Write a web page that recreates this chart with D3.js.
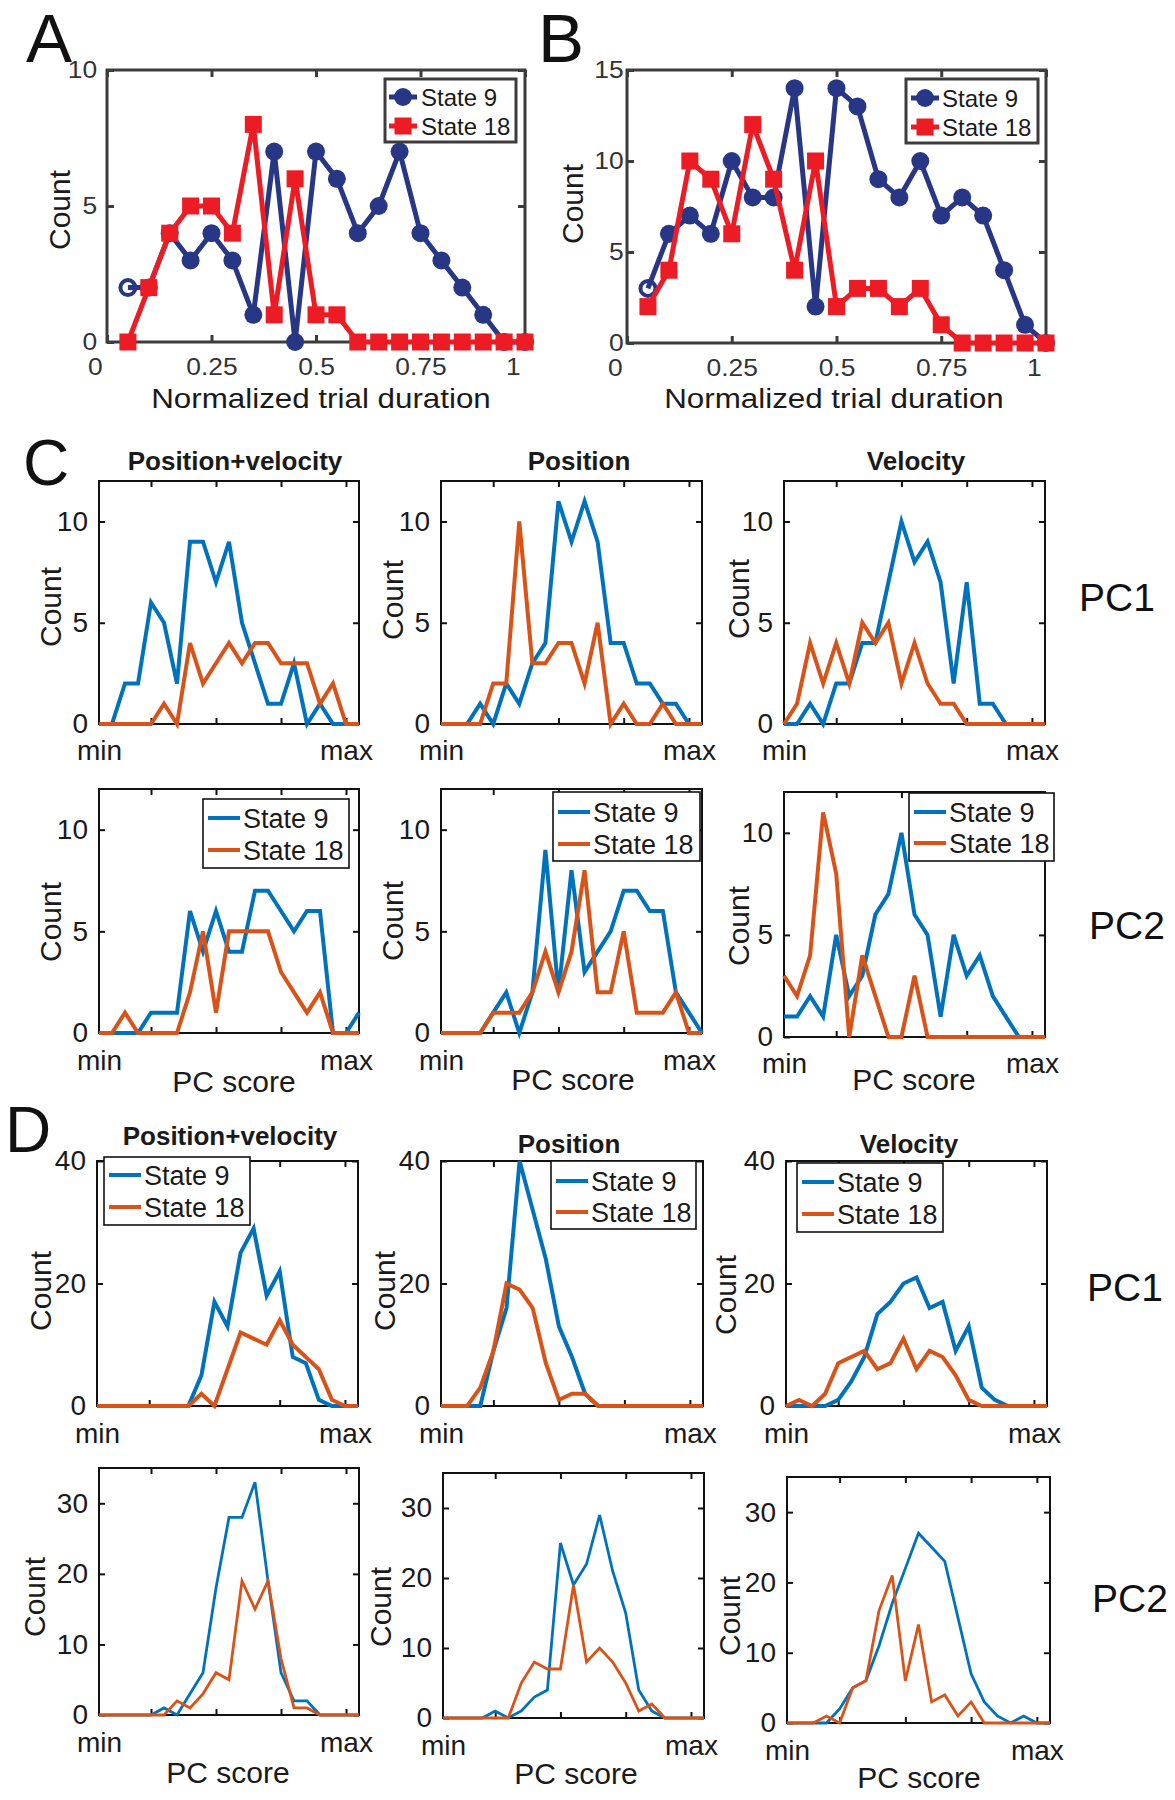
<!DOCTYPE html>
<html><head><meta charset="utf-8">
<script src="https://cdn.jsdelivr.net/npm/d3@7"></script>
<style>
body{margin:0;background:#fff}
svg{display:block}
text{font-family:"Liberation Sans",Arial,Helvetica,sans-serif}
</style>
</head><body>
<svg id="fig" width="1175" height="1800"></svg>
<script>
// ---------------- DATA ----------------
const trialBins = [0.05,0.10,0.15,0.20,0.25,0.30,0.35,0.40,0.45,0.50,0.55,0.60,0.65,0.70,0.75,0.80,0.85,0.90,0.95,1.00];
const trialTicks = [0,0.25,0.5,0.75,1];
const trialTickLabels = ["0","0.25","0.5","0.75","1"];
const aState9  = [2,2,4,3,4,3,1,7,0,7,6,4,5,7,4,3,2,1,0,0];
const aState18 = [0,2,4,5,5,4,8,1,6,1,1,0,0,0,0,0,0,0,0,0];
const bState9  = [3,6,7,6,10,8,8,14,2,14,13,9,8,10,7,8,7,4,1,0];
const bState18 = [2,4,10,9,6,12,9,4,10,2,3,3,2,3,1,0,0,0,0,0];
const aYTicks = [0,5,10];
const bYTicks = [0,5,10,15];

const pcBins = [0,1,2,3,4,5,6,7,8,9,10,11,12,13,14,15,16,17,18,19,20];
const pcTickBins = [4,9,14,19];
const pcEndLabels = ["min","max"];
const seriesNames = ["State 9","State 18"];

const cPosVelPC1S9  = [0,0,2,2,6,5,2,9,9,7,9,5,3,1,1,3,0,1,0,0,0];
const cPosVelPC1S18 = [0,0,0,0,0,1,0,4,2,3,4,3,4,4,3,3,3,1,2,0,0];
const cPosPC1S9     = [0,0,0,1,0,2,1,3,4,11,9,11,9,4,4,2,2,1,1,0,0];
const cPosPC1S18    = [0,0,0,0,2,2,10,3,3,4,4,2,5,0,1,0,0,1,0,0,0];
const cVelPC1S9     = [0,0,1,0,2,2,4,4,7,10,8,9,7,2,7,1,1,0,0,0,0];
const cVelPC1S18    = [0,1,4,2,4,2,5,4,5,2,4,2,1,1,0,0,0,0,0,0,0];

const cPosVelPC2S9  = [0,0,0,0,1,1,1,6,4,6,4,4,7,7,6,5,6,6,0,0,1];
const cPosVelPC2S18 = [0,0,1,0,0,0,0,2,5,1,5,5,5,5,3,2,1,2,0,0,0];
const cPosPC2S9     = [0,0,0,0,1,2,0,2,9,2,8,3,4,5,7,7,6,6,2,1,0];
const cPosPC2S18    = [0,0,0,0,1,1,1,2,4,2,4,8,2,2,5,1,1,1,2,0,0];
const cVelPC2S9     = [1,1,2,1,5,2,3,6,7,10,6,5,1,5,3,4,2,1,0,0,0];
const cVelPC2S18    = [3,2,4,11,8,0,4,2,0,0,3,0,0,0,0,0,0,0,0,0,0];

const dPosVelPC1S9  = [0,0,0,0,0,0,0,0,5,17,13,25,29,18,22,8,7,1,0,0,0];
const dPosVelPC1S18 = [0,0,0,0,0,0,0,0,2,0,6,12,11,10,14,10,8,6,1,0,0];
const dPosPC1S9     = [0,0,0,0,9,16,40,32,24,13,8,2,0,0,0,0,0,0,0,0,0];
const dPosPC1S18    = [0,0,0,3,9,20,19,16,7,1,2,2,0,0,0,0,0,0,0,0,0];
const dVelPC1S9     = [0,0,0,0,1,4,8,15,17,20,21,16,17,9,13,3,1,0,0,0,0];
const dVelPC1S18    = [0,1,0,2,7,8,9,6,7,11,6,9,8,5,1,0,0,0,0,0,0];

const dPosVelPC2S9  = [0,0,0,0,0,1,0,3,6,18,28,28,33,19,6,2,2,0,0,0,0];
const dPosVelPC2S18 = [0,0,0,0,0,0,2,1,3,6,5,19,15,19,8,1,1,0,0,0,0];
const dPosPC2S9     = [0,0,0,0,1,0,1,3,4,25,19,22,29,21,15,4,1,0,0,0,0];
const dPosPC2S18    = [0,0,0,0,0,0,5,8,7,7,19,8,10,8,5,1,2,0,0,0,0];
const dVelPC2S9     = [0,0,0,0,2,5,6,11,17,22,27,25,23,15,7,3,1,0,1,0,0];
const dVelPC2S18    = [0,0,0,1,0,5,6,16,21,6,14,3,4,1,3,0,0,0,0,0,0];

const cYTicks = [0,5,10];
const d1YTicks = [0,20,40];
const d2YTicks = [0,10,20,30];

// ---------------- DRAWING ----------------
const svg = d3.select('#fig');
const NAVY = '#283785', RED = '#ED1C24';
const BLUE = '#0072BD', ORANGE = '#D95319';
const TXT = '#1a1a1a';

function label(txt, x, y, size, o = {}) {
  const t = svg.append('text').attr('font-size', size)
    .attr('fill', o.fill || TXT).attr('text-anchor', o.anchor || 'middle').text(txt);
  if (o.sx) t.attr('transform', `translate(${x},${y}) scale(${o.sx},1)`);
  else t.attr('x', x).attr('y', y);
  if (o.bold) t.attr('font-weight', 'bold');
  return t;
}
function vlabel(txt, cx, cy, size) {
  svg.append('text').attr('transform', `translate(${cx},${cy}) rotate(-90)`)
    .attr('dy', '0.35em').attr('font-size', size).attr('fill', TXT)
    .attr('text-anchor', 'middle').text(txt);
}

function styleAxis(sel, color, w, fs) {
  sel.select('.domain').remove();
  sel.selectAll('.tick line').attr('stroke', color).attr('stroke-width', w);
  sel.selectAll('.tick text').attr('fill', TXT).attr('font-size', fs)
     .attr('font-family', '"Liberation Sans",Arial,Helvetica,sans-serif');
}

// ----- Panels A and B -----
function trialPanel(o) {
  const x = d3.scaleLinear().domain([0, 1]).range([o.x0, o.x1]);
  const y = d3.scaleLinear().domain([0, o.ymax]).range([o.y1, o.y0]);
  const g = svg.append('g');
  const AX = '#3c3c3c';
  g.append('rect').attr('x', o.x0).attr('y', o.y0).attr('width', o.x1 - o.x0)
    .attr('height', o.y1 - o.y0).attr('fill', 'none').attr('stroke', AX).attr('stroke-width', 3);
  const xb = g.append('g').attr('transform', `translate(0,${o.y1})`)
    .call(d3.axisBottom(x).tickValues(trialTicks).tickFormat((d, i) => trialTickLabels[i]).tickSize(-7).tickPadding(16));
  styleAxis(xb, AX, 3, 24);
  xb.selectAll('.tick text').attr('fill', '#333')
    .attr('x', (d, i) => (i === 0 || i === trialTicks.length - 1) ? -11 : 0)
    .attr('transform', 'scale(1.1,1)');
  const xt = g.append('g').attr('transform', `translate(0,${o.y0})`)
    .call(d3.axisTop(x).tickValues(trialTicks).tickFormat('').tickSize(-7));
  styleAxis(xt, AX, 3, 24);
  const yl = g.append('g').attr('transform', `translate(${o.x0},0)`)
    .call(d3.axisLeft(y).tickValues(o.yticks).tickSize(-7).tickPadding(o.ypad));
  styleAxis(yl, AX, 3, 24);
  yl.selectAll('.tick text').attr('fill', '#333').attr('transform', 'scale(1.1,1)');
  const yr = g.append('g').attr('transform', `translate(${o.x1},0)`)
    .call(d3.axisRight(y).tickValues(o.yticks).tickFormat('').tickSize(-7));
  styleAxis(yr, AX, 3, 24);

  const line = d3.line().x((d, i) => x(trialBins[i])).y(d => y(d));
  g.append('path').datum(o.s9).attr('d', line).attr('fill', 'none').attr('stroke', NAVY).attr('stroke-width', 5).attr('stroke-linejoin', 'round');
  g.selectAll('.c9').data(o.s9).enter().append('circle')
    .attr('cx', (d, i) => x(trialBins[i])).attr('cy', d => y(d))
    .attr('r', (d, i) => i === 0 ? 7.5 : 9)
    .attr('fill', (d, i) => i === 0 ? 'none' : NAVY)
    .attr('stroke', NAVY).attr('stroke-width', (d, i) => i === 0 ? 4 : 0);
  g.append('path').datum(o.s18).attr('d', line).attr('fill', 'none').attr('stroke', RED).attr('stroke-width', 5).attr('stroke-linejoin', 'round');
  g.selectAll('.s18').data(o.s18).enter().append('rect')
    .attr('x', (d, i) => x(trialBins[i]) - 8.5).attr('y', d => y(d) - 8.5).attr('width', 17).attr('height', 17).attr('fill', RED);

  // legend
  const L = o.leg;
  g.append('rect').attr('x', L.x0).attr('y', L.y0).attr('width', L.x1 - L.x0).attr('height', L.y1 - L.y0)
    .attr('fill', '#fff').attr('stroke', AX).attr('stroke-width', 3);
  const mx = (L.lx0 + L.lx1) / 2;
  g.append('line').attr('x1', L.lx0).attr('x2', L.lx1).attr('y1', L.ys[0]).attr('y2', L.ys[0]).attr('stroke', NAVY).attr('stroke-width', 5);
  g.append('circle').attr('cx', mx).attr('cy', L.ys[0]).attr('r', 9).attr('fill', NAVY);
  g.append('line').attr('x1', L.lx0).attr('x2', L.lx1).attr('y1', L.ys[1]).attr('y2', L.ys[1]).attr('stroke', RED).attr('stroke-width', 5);
  g.append('rect').attr('x', mx - 8.5).attr('y', L.ys[1] - 8.5).attr('width', 17).attr('height', 17).attr('fill', RED);
  seriesNames.forEach((s, i) => {
    g.append('text').attr('x', L.tx).attr('y', L.ys[i]).attr('dy', '0.36em').attr('font-size', 24).attr('fill', TXT).text(s);
  });

  label('Normalized trial duration', o.xlx, 408, 28.5, {sx: 1.1});
  vlabel('Count', o.cx, o.cy, 30);
}

trialPanel({x0: 107, x1: 525, y0: 70, y1: 342, ymax: 10, yticks: aYTicks, s9: aState9, s18: aState18,
  ypad: 9, xlx: 321, cx: 59, cy: 210,
  leg: {x0: 385, x1: 516, y0: 79, y1: 142, lx0: 389, lx1: 417, tx: 421, ys: [97, 126]}});
trialPanel({x0: 627, x1: 1046, y0: 70, y1: 343, ymax: 15, yticks: bYTicks, s9: bState9, s18: bState18,
  ypad: 3, xlx: 834, cx: 572, cy: 204,
  leg: {x0: 906, x1: 1038, y0: 79, y1: 143, lx0: 911, lx1: 939, tx: 942, ys: [98, 127]}});

label('A', 26, 62, 69, {anchor: 'start', fill: '#111'});
label('B', 538, 62, 69, {anchor: 'start', fill: '#111'});

// ----- Panels C and D -----
function pcPanel(o) {
  const x = d3.scaleLinear().domain([pcBins[0], pcBins[pcBins.length - 1]]).range([o.x0, o.x1]);
  const y = d3.scaleLinear().domain([0, o.ymax]).range([o.y1, o.y0]);
  const g = svg.append('g');
  g.append('rect').attr('x', o.x0).attr('y', o.y0).attr('width', o.x1 - o.x0)
    .attr('height', o.y1 - o.y0).attr('fill', 'none').attr('stroke', '#111').attr('stroke-width', 2);
  const xb = g.append('g').attr('transform', `translate(0,${o.y1})`)
    .call(d3.axisBottom(x).tickValues(pcTickBins).tickFormat('').tickSize(-6));
  styleAxis(xb, '#111', 2, 28);
  const xt = g.append('g').attr('transform', `translate(0,${o.y0})`)
    .call(d3.axisTop(x).tickValues(pcTickBins).tickFormat('').tickSize(-6));
  styleAxis(xt, '#111', 2, 28);
  const yl = g.append('g').attr('transform', `translate(${o.x0},0)`)
    .call(d3.axisLeft(y).tickValues(o.yticks).tickSize(-6).tickPadding(11));
  styleAxis(yl, '#111', 2, 28);
  const yr = g.append('g').attr('transform', `translate(${o.x1},0)`)
    .call(d3.axisRight(y).tickValues(o.yticks).tickFormat('').tickSize(-6));
  styleAxis(yr, '#111', 2, 28);
  // min / max labels
  const mm = g.append('g').attr('transform', `translate(0,${o.y1})`)
    .call(d3.axisBottom(x).tickValues([pcBins[0], pcTickBins[pcTickBins.length - 1]])
      .tickFormat((d, i) => pcEndLabels[i]).tickSize(0).tickPadding(o.mmBase - o.y1 - 20));
  styleAxis(mm, '#111', 0, 28);

  const line = d3.line().x((d, i) => x(pcBins[i])).y(d => y(d));
  g.append('path').datum(o.s9).attr('d', line).attr('fill', 'none').attr('stroke', BLUE).attr('stroke-width', o.lw).attr('stroke-linejoin', 'miter');
  g.append('path').datum(o.s18).attr('d', line).attr('fill', 'none').attr('stroke', ORANGE).attr('stroke-width', o.lw).attr('stroke-linejoin', 'miter');

  if (o.leg) {
    const L = o.leg;
    g.append('rect').attr('x', L.x0).attr('y', L.y0).attr('width', L.x1 - L.x0).attr('height', L.y1 - L.y0)
      .attr('fill', '#fff').attr('stroke', '#111').attr('stroke-width', 1.6);
    [BLUE, ORANGE].forEach((c, i) => {
      g.append('line').attr('x1', L.x0 + 5).attr('x2', L.x0 + 37).attr('y1', L.ys[i]).attr('y2', L.ys[i])
        .attr('stroke', c).attr('stroke-width', 4);
      g.append('text').attr('x', L.x0 + 40).attr('y', L.ys[i]).attr('dy', '0.36em')
        .attr('font-size', 27).attr('fill', TXT).text(seriesNames[i]);
    });
  }
  if (o.title) label(o.title, o.tx, o.ty, 26, {bold: true});
  if (o.score) label('PC score', o.score[0], o.score[1], 30);
  vlabel('Count', o.cx, o.cy, 30);
}

const pcPanels = [
  // C, PC1
  {x0: 99, x1: 359, y0: 481, y1: 724, ymax: 12, yticks: cYTicks, s9: cPosVelPC1S9, s18: cPosVelPC1S18, lw: 4,
   title: 'Position+velocity', tx: 235, ty: 470, cx: 50, cy: 607, mmBase: 760},
  {x0: 441, x1: 702, y0: 481, y1: 724, ymax: 12, yticks: cYTicks, s9: cPosPC1S9, s18: cPosPC1S18, lw: 4,
   title: 'Position', tx: 579, ty: 470, cx: 392, cy: 600, mmBase: 760},
  {x0: 784, x1: 1045, y0: 481, y1: 724, ymax: 12, yticks: cYTicks, s9: cVelPC1S9, s18: cVelPC1S18, lw: 4,
   title: 'Velocity', tx: 916, ty: 470, cx: 738, cy: 599, mmBase: 760},
  // C, PC2
  {x0: 99, x1: 359, y0: 789, y1: 1033, ymax: 12, yticks: cYTicks, s9: cPosVelPC2S9, s18: cPosVelPC2S18, lw: 4,
   cx: 50, cy: 922, mmBase: 1070, score: [234, 1092],
   leg: {x0: 203, x1: 349, y0: 799, y1: 868, ys: [818, 850]}},
  {x0: 441, x1: 702, y0: 789, y1: 1033, ymax: 12, yticks: cYTicks, s9: cPosPC2S9, s18: cPosPC2S18, lw: 4,
   cx: 392, cy: 921, mmBase: 1070, score: [573, 1090],
   leg: {x0: 553, x1: 700, y0: 792, y1: 861, ys: [812, 844]}},
  {x0: 784, x1: 1045, y0: 792, y1: 1037, ymax: 12, yticks: cYTicks, s9: cVelPC2S9, s18: cVelPC2S18, lw: 4,
   cx: 738, cy: 926, mmBase: 1073, score: [914, 1090],
   leg: {x0: 909, x1: 1054, y0: 793, y1: 861, ys: [812, 843]}},
  // D, PC1
  {x0: 97, x1: 358, y0: 1161, y1: 1406, ymax: 40, yticks: d1YTicks, s9: dPosVelPC1S9, s18: dPosVelPC1S18, lw: 4,
   title: 'Position+velocity', tx: 230, ty: 1145, cx: 40, cy: 1291, mmBase: 1443,
   leg: {x0: 104, x1: 250, y0: 1157, y1: 1225, ys: [1175, 1207]}},
  {x0: 441, x1: 703, y0: 1161, y1: 1406, ymax: 40, yticks: d1YTicks, s9: dPosPC1S9, s18: dPosPC1S18, lw: 4,
   title: 'Position', tx: 569, ty: 1153, cx: 384, cy: 1291, mmBase: 1443,
   leg: {x0: 551, x1: 696, y0: 1161, y1: 1229, ys: [1181, 1212]}},
  {x0: 786, x1: 1047, y0: 1161, y1: 1406, ymax: 40, yticks: d1YTicks, s9: dVelPC1S9, s18: dVelPC1S18, lw: 4,
   title: 'Velocity', tx: 909, ty: 1153, cx: 725, cy: 1295, mmBase: 1443,
   leg: {x0: 797, x1: 943, y0: 1163, y1: 1232, ys: [1182, 1214]}},
  // D, PC2
  {x0: 99, x1: 359, y0: 1468, y1: 1715, ymax: 35, yticks: d2YTicks, s9: dPosVelPC2S9, s18: dPosVelPC2S18, lw: 2.8,
   cx: 34, cy: 1597, mmBase: 1752, score: [228, 1783]},
  {x0: 443, x1: 704, y0: 1473, y1: 1718, ymax: 35, yticks: d2YTicks, s9: dPosPC2S9, s18: dPosPC2S18, lw: 2.8,
   cx: 380, cy: 1607, mmBase: 1755, score: [576, 1784]},
  {x0: 787, x1: 1050, y0: 1477, y1: 1723, ymax: 35, yticks: d2YTicks, s9: dVelPC2S9, s18: dVelPC2S18, lw: 2.8,
   cx: 729, cy: 1616, mmBase: 1760, score: [919, 1788]}
];
pcPanels.forEach(pcPanel);

label('C', 23, 485, 64, {anchor: 'start', fill: '#111'});
label('D', 5, 1152, 64, {anchor: 'start', fill: '#111'});
label('PC1', 1117, 597, 39, {fill: '#111'}).attr('dy', '0.36em');
label('PC2', 1127, 925, 39, {fill: '#111'}).attr('dy', '0.36em');
label('PC1', 1125, 1287, 39, {fill: '#111'}).attr('dy', '0.36em');
label('PC2', 1130, 1598, 39, {fill: '#111'}).attr('dy', '0.36em');
</script>
</body></html>
